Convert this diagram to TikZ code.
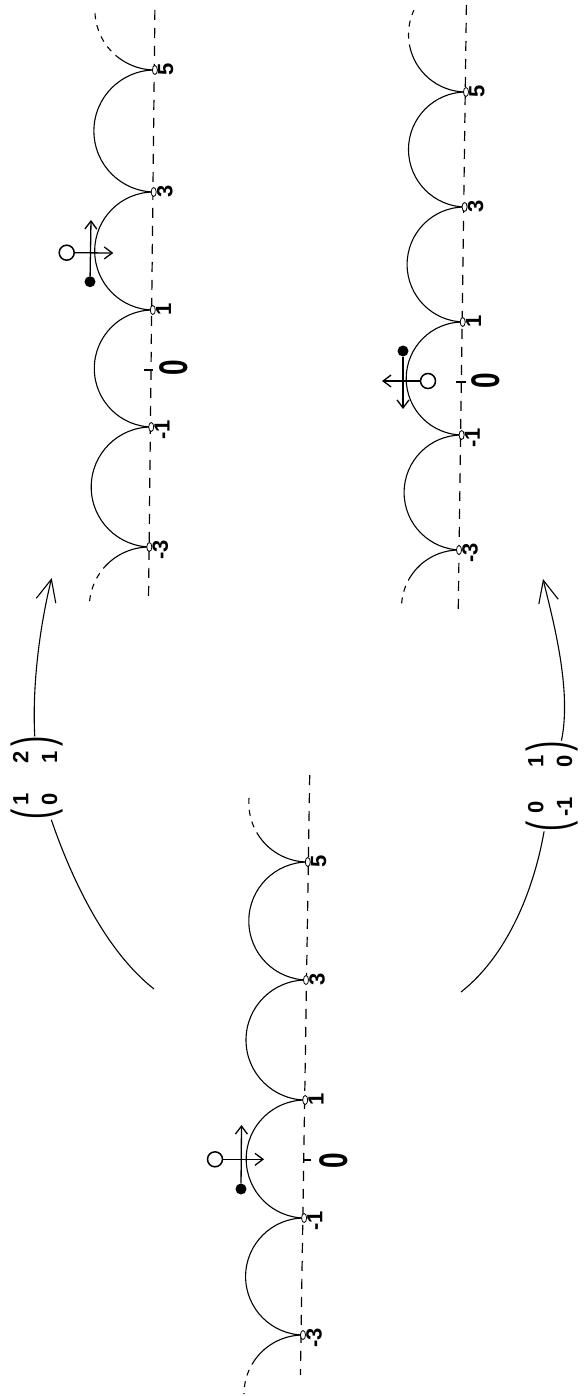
\documentclass[tikz,border=0pt]{standalone}
\usepackage{fontspec}
\setmainfont{Liberation Sans}
\usetikzlibrary{arrows.meta,shapes.geometric,calc}
\newcommand\bigparen[1]{\vcenter{\hbox{\scalebox{0.55}[1]{\fontsize{56}{56}\selectfont #1}}}}
\newcommand\rotmat[4]{{\setlength\tabcolsep{0pt}\renewcommand\arraystretch{1.3}$\bigparen{(}\vcenter{\hbox{\fontsize{22}{22}\selectfont\bfseries\begin{tabular}{@{\hspace{4pt}}c@{\hspace{30pt}}c@{\hspace{4pt}}}#1&#2\\#3&#4\end{tabular}}}\bigparen{)}$}}
\begin{document}
\begin{tikzpicture}[x=1pt,y=1pt,
  geo/.style={line width=1.1pt},
  axisline/.style={line width=1.2pt, dash pattern=on 10pt off 8pt},
  gdash/.style={line width=1.1pt, dash pattern=on 6pt off 6pt, dash phase=6pt},
  cuspmark/.style={ellipse, draw, fill=white, line width=0.8pt, minimum width=5pt, minimum height=9pt, inner sep=0pt},
  cusplabel/.style={rotate=90, anchor=north east, inner sep=0pt, font=\bfseries\fontsize{22}{22}\selectfont},
  zerolabel/.style={rotate=90, inner sep=0pt, font=\bfseries\fontsize{40}{40}\selectfont},
  zerotick/.style={line width=1.6pt},
  mat/.style={rotate=90, inner sep=0pt},
  bigarrow/.style={line width=1.1pt},
  bighead/.style={line width=1.1pt, -{Straight Barb[length=22pt,width=20pt]}},
  smallarrow/.style={line width=1.3pt, -{Straight Barb[length=8pt,width=12pt]}},
  opendot/.style={circle, draw, line width=1.5pt, minimum size=15pt, inner sep=0pt, fill=white},
  filldot/.style={circle, fill=black, minimum size=11pt, inner sep=0pt}
]
\fill[white] (0,0) rectangle (585,-1396);
\useasboundingbox (0,0) rectangle (585,-1396);

% ---------- left column ----------
\coordinate (Ltop) at (154.9,-10);
\coordinate (Lbot) at (148.5,-602);
\coordinate (L5) at (154.9,-70);
\coordinate (L3) at (153.7,-192);
\coordinate (L1) at (152.8,-310);
\coordinate (Lm1) at (151.2,-427);
\coordinate (Lm3) at (149.3,-547);
\draw[axisline] (Ltop) -- (Lbot);
\draw[geo] (L5) arc[start angle=90, end angle=270, radius=61];
\draw[geo] (L3) arc[start angle=90, end angle=270, radius=59];
\draw[geo] (L1) arc[start angle=90, end angle=270, radius=58.5];
\draw[geo] (Lm1) arc[start angle=90, end angle=270, radius=60];
\draw[geo] (L5) arc[start angle=270, end angle=229, radius=60] coordinate (L5a);
\draw[gdash] (L5a) arc[start angle=229, end angle=182, radius=60];
\draw[geo] (Lm3) arc[start angle=90, end angle=140, radius=60] coordinate (Lm3a);
\draw[gdash] (Lm3a) arc[start angle=140, end angle=180, radius=60];
\draw[zerotick] (144,-370) coordinate (Lt1) -- (153,-370) coordinate (Lt2);
\node[zerolabel] (Lz) at (174,-368) {\scalebox{0.7}[1]{0}};

% ---------- right column ----------
\coordinate (Rtop) at (466.4,-5);
\coordinate (Rbot) at (458.2,-615);
\coordinate (R5) at (466,-92);
\coordinate (R3) at (464.6,-207);
\coordinate (R1) at (462.7,-322);
\coordinate (Rm1) at (461.6,-435);
\coordinate (Rm3) at (459,-550);
\draw[axisline] (Rtop) -- (Rbot);
\draw[geo] (R5) arc[start angle=90, end angle=270, radius=57.5];
\draw[geo] (R3) arc[start angle=90, end angle=270, radius=57.5];
\draw[geo] (R1) arc[start angle=90, end angle=270, radius=56.5];
\draw[geo] (Rm1) arc[start angle=90, end angle=270, radius=57.5];
\draw[geo] (R5) arc[start angle=270, end angle=190, radius=57.5] coordinate (R5a);
\draw[gdash] (R5a) arc[start angle=190, end angle=155, radius=57.5];
\draw[geo] (Rm3) arc[start angle=90, end angle=152, radius=57.5] coordinate (Rm3a);
\draw[gdash] (Rm3a) arc[start angle=152, end angle=180, radius=57.5];
\draw[zerotick] (456,-382) coordinate (Rt1) -- (466,-382) coordinate (Rt2);
\node[zerolabel] (Rz) at (485.5,-381) {\scalebox{0.7}[1]{0}};

% ---------- middle column ----------
\coordinate (Ctop) at (309.7,-775);
\coordinate (Cbot) at (300.4,-1375);
\coordinate (C5) at (307.8,-862);
\coordinate (C3) at (306,-980);
\coordinate (C1) at (305.2,-1100);
\coordinate (Cm1) at (304.1,-1218);
\coordinate (Cm3) at (303,-1335);
\draw[axisline] (Ctop) -- (Cbot);
\draw[geo] (C5) arc[start angle=90, end angle=270, radius=59];
\draw[geo] (C3) arc[start angle=90, end angle=270, radius=60];
\draw[geo] (C1) arc[start angle=90, end angle=270, radius=59];
\draw[geo] (Cm1) arc[start angle=90, end angle=270, radius=58.5];
\draw[geo] (C5) arc[start angle=270, end angle=210, radius=59] coordinate (C5a);
\draw[gdash] (C5a) arc[start angle=210, end angle=172, radius=59];
\draw[geo] (Cm3) arc[start angle=90, end angle=150, radius=59] coordinate (Cm3a);
\draw[gdash] (Cm3a) arc[start angle=150, end angle=180, radius=59];
\draw[zerotick] (303,-1160) coordinate (Ct1) -- (311,-1160) coordinate (Ct2);
\node[zerolabel] (Cz) at (334,-1161) {\scalebox{0.7}[1]{0}};

% ---------- cusp markers and labels ----------
\foreach \p/\t in {L5/5,L3/3,L1/1,Lm1/-1,Lm3/-3,R5/5,R3/3,R1/1,Rm1/-1,Rm3/-3,C5/5,C3/3,C1/1,Cm1/-1,Cm3/-3}{
  \node[cuspmark] (\p m) at (\p) {};
  \node[cusplabel] (\p l) at ($(\p)+(3,7)$) {\t};
}

% ---------- small figures ----------
\node[opendot] (O1) at (66.7,-252.7) {};
\node[filldot] (D1) at (90,-281.7) {};
\coordinate (T1h) at (113.3,-253);
\coordinate (T1v) at (91,-220);
\draw[smallarrow] (D1) -- (T1v);
\draw[smallarrow] (O1) -- (T1h);

\node[opendot] (O2) at (215,-1159.3) {};
\node[filldot] (D2) at (241,-1189) {};
\coordinate (T2h) at (264,-1159.3);
\coordinate (T2v) at (241.5,-1125);
\draw[smallarrow] (D2) -- (T2v);
\draw[smallarrow] (O2) -- (T2h);

\node[opendot] (O3) at (428,-381) {};
\node[filldot] (D3) at (403,-351) {};
\coordinate (T3h) at (382,-381);
\coordinate (T3v) at (403,-409);
\draw[smallarrow] (D3) -- (T3v);
\draw[smallarrow] (O3) -- (T3h);

% ---------- matrices and big arrows ----------
\node[mat] (M1) at (37,-778) {\rotmat{1}{2}{0}{1}};
\node[mat] (M2) at (552,-786) {\rotmat{0}{1}{-1}{0}};
\coordinate (B1) at (154,-989);
\coordinate (A1) at (51.7,-578);
\coordinate (B2) at (461,-992);
\coordinate (A2) at (543,-579);
\draw[bigarrow] (B1) .. controls (107,-952) and (73,-883) .. (M1);
\draw[bighead] (M1) .. controls (32,-685) and (40,-625) .. (A1);
\draw[bigarrow] (B2) .. controls (508,-955) and (534,-889) .. (M2);
\draw[bighead] (M2) .. controls (572,-690) and (553,-620) .. (A2);
\end{tikzpicture}
\end{document}
